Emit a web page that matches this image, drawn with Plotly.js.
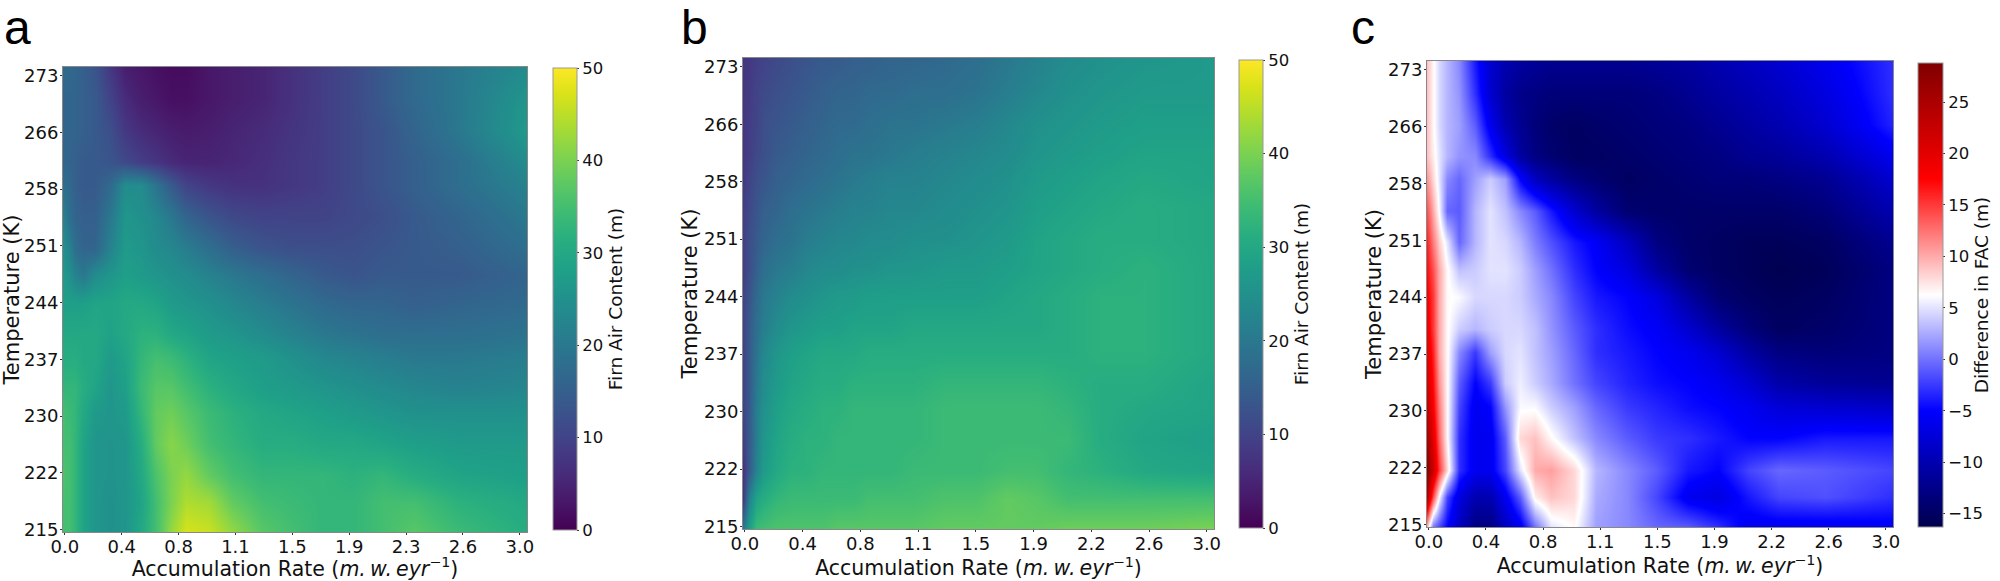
<!DOCTYPE html>
<html>
<head>
<meta charset="utf-8">
<script src="https://cdn.plot.ly/plotly-3.0.1.min.js"></script>
<style>html,body{margin:0;padding:0;background:#fff}</style>
</head>
<body>
<div id="fig" style="width:2000px;height:581px"></div>
<script>
// grid the values were read on, rows run top of picture to bottom
var accum = [-0.015, .03, .07, .12, .2, .3, .4, .5, .6, .7, .8, .95, 1.1, 1.3, 1.5, 1.7, 1.9, 2.1, 2.3, 2.6, 3.05];
var temps = [274.1, 270, 266, 262, 259, 255, 251, 247.5, 244, 240, 237, 233, 230, 226, 222, 218.5, 214.7];

var xTickVals = [0, .375, .75, 1.125, 1.5, 1.875, 2.25, 2.625, 3];
var xLabelsA = ['0.0', '0.4', '0.8', '1.1', '1.5', '1.9', '2.3', '2.6', '3.0'];
var xLabelsB = ['0.0', '0.4', '0.8', '1.1', '1.5', '1.9', '2.2', '2.6', '3.0'];
var yTickVals = [215, 222.25, 229.5, 236.75, 244, 251.25, 258.5, 265.75, 273];
var yLabels = ['215', '222', '230', '237', '244', '251', '258', '266', '273'];

var facA = [
  [17,17,16,15,13,8,4,3,2,1.5,1.5,3,4,5,7,9,11,14,17,20,24],
  [16,16,16,15,14,10,6,4,3,2,2,3,4,5,7,9,11,14,17,20,26],
  [16,16,16,15,14,12,8,6,5,4,3.5,4,5,6,7.5,9,11,13,16,20,27],
  [16,16,15,14,14,13,11,9,7.5,6,5,5,5.5,6.5,8,9,11,13,15,18,24],
  [18,17,15,14,14,17,24,24,19,14,10,8,7,7,8,9,11,13,15,18,22],
  [22,18,16,15,15,20,26,25,23,20,16,13,11,10,10,10,11,12,14,16,20],
  [25,22,18,16,16,22,27,26,24,23,21,18,15,13,12,12,12,13,14,15,18],
  [27,25,22,20,24,26,28,27,26,25,24,22,20,18,16,14,13,14,14,14,16],
  [28,28,28,28,29,29,30,30,29,27,26,25,23,21,19,17,16,16,15,16,17],
  [30,30,30,30,30,28.5,30,32,32,30,29,27,26,24,22,20,19,18,18,18,19],
  [31,31,31,30,30,27,29,33,35,34,32,29,28,27,25,23,22,21,20,20,21],
  [33,33,33,31,29,26,28,34,37,37,35,32,30,28,27,26,25,24,23,22,23],
  [35,34,33,30,27,26,27,33,38,39,37,34,32,30,29,28,27,26,25,25,25],
  [35,35,33,29,26,25.5,26,31,38,41,39,35,33,31,31,30,30,29,28,27,27],
  [36,35,33,29,26,25.5,26,30,36,40,42,38,35,33,33,33,32,33,31,29,28],
  [35,35,33,29,26,25,26,29,35,40,44,43,38,35,34,33,33,35,35,32,30],
  [35,35,33,29,26,25,26,30,35,42,47,46,42,37,35,33,33,35,37,34,31]
];

var facB = [
  [8,8,9,10,11,12,13,14,14,15,15,16,16,17,18,20,22,24,25,26,27],
  [8,8.5,10,11,12,13,14,15,16,16,17,17,18,18,19,21,23,25,26,27,27],
  [8,9,10,12,13,14,15,16,17,17,18,19,19,20,21,23,25,26,27,28,28],
  [8,9,11,12,14,15,16,17,18,19,19,20,21,22,23,24,26,27,28,29,29],
  [8,10,12,13,15,16,17,18,19,20,21,22,22,23,24,25,27,28,29,30,29],
  [9,11,13,15,16,18,19,20,21,22,22,23,23,24,25,26,28,29,30,31,30],
  [9,12,14,16,18,19,21,22,23,23,24,24,25,25,26,27,29,30,31,31,30],
  [9,12,15,18,20,21,23,24,24,25,25,26,26,27,27,28,29,30,31,32,30],
  [10,13,17,20,22,24,25,26,27,27,28,28,28,28,28,29,30,31,32,32,30],
  [10,14,18,21,24,26,27,28,28,29,29,29,30,30,30,30,30,31,32,32,30],
  [10,14,19,23,26,28,29,30,30,30,31,31,31,31,31,31,31,31,32,32,30],
  [10,14,20,24,27,29,30,31,31,32,32,32,32,33,33,33,33,32,31,31,29],
  [10,14,21,25,28,30,31,32,32,33,33,33,33,34,34,34,34,33,31,30,29],
  [9,14,21,26,29,31,32,32,33,33,33,33,33,34,34,34,34,34,31,29,28],
  [7,14,22,27,30,32,32,33,33,33,33,33,34,34,34,35,35,33,32,30,29],
  [8,22,29,31,33,34,34,34,34,34,35,35,35,36,36,38,37,35,35,35,35],
  [20,28,34,35,36,36,36,36,37,37,37,37,37,38,38,38,38,39,39,39,40]
];

var facDiff = [
  [9,6.5,4.5,3,1,-4,-8,-10,-11,-11.5,-12,-12,-12,-12,-11.5,-11,-10,-9,-8,-6,-3],
  [9,6.5,4.5,3,1.5,-3,-8,-11,-12.5,-13,-13.5,-13.5,-13.5,-13.5,-13,-12,-11,-10,-9,-7,-3],
  [9,6.5,4.5,3,2,-1,-6,-10,-12,-13.5,-14.5,-15,-14.5,-14,-13.5,-13,-12,-11,-10,-8,-3.5],
  [9,7,5,3,1.5,1,-3,-7,-11,-13,-14,-15,-15,-14.5,-14,-13.5,-13,-12,-11.5,-10,-6],
  [11,8,5,1,-0.5,2,4,2,-5,-9,-11,-13,-14,-15,-14.5,-14,-13.5,-13.5,-13,-12,-8],
  [14,10,6,-0.5,-1,3,5,3.5,1,-1,-4,-8,-11,-14,-14.5,-14.5,-14.5,-14.5,-14.5,-13.5,-10],
  [16,12,8.5,5,-0.5,3,5,4.5,3,0.5,-1.5,-4,-5.5,-9,-13,-14.5,-15,-15.5,-15.5,-15,-12],
  [17,14,10,6.5,3.5,4,5,5,4,2,0,-3,-5,-7,-11,-14,-15,-15.5,-16,-15.5,-13],
  [18,15,10,6.5,6,4.5,4.5,4.5,4,2.5,1,-2,-4,-5,-7,-11,-14,-15,-15.5,-15,-13],
  [19,15,10,6.5,4,3,4,4.5,4.5,3.5,1.5,-1,-3,-4.5,-5.5,-8,-11,-13.5,-15,-14.5,-13],
  [20,16,10,6.5,1,-2.5,2,4.5,5,3.5,2,-0.5,-3,-4,-5,-6,-8,-11,-13,-13.5,-13],
  [21,17,11,6.5,-1,-5,-2.5,4,5.5,4,2.5,0,-2,-3.5,-4.5,-5,-6,-8,-10.5,-11.5,-12],
  [23,18,12,6.5,-2,-6,-5,1.5,6,6,4,2,-0.5,-2.5,-3.5,-4.5,-5,-6,-7.5,-8,-8.5],
  [25,20,13,6.5,-3,-6,-6,-1,8,9,6.5,3.5,1,-1,-2.5,-3,-4,-5,-5,-4,-4],
  [28,22,15,8,-3,-6,-6,-2,5,10,10.5,8,3,1,-1,-4,-5,-2,-0.5,-1,-2],
  [24,14,6,-2,-7,-10,-10,-6,-1,7,9,8,2.5,1,-2,-6,-7,-4,-2,-1.5,-3],
  [9,0,-2,-5,-9,-13,-13,-9,-6,0,5,6.5,2,1,-0.5,-1,-3,-6,-6,-6,-5.5]
];

var W = 2000, H = 581;
var seismic = [[0, 'rgb(0,0,77)'], [.25, 'rgb(0,0,255)'], [.5, 'rgb(255,255,255)'], [.75, 'rgb(255,0,0)'], [1, 'rgb(128,0,0)']];
var font = 'DejaVu Sans, sans-serif';

// pixel boxes of the three panels and their colourbars
var boxes = [
  {l: 63, r: 527, t: 67, b: 532, cx: 553, cw: 24, ct: 68, cb: 530},
  {l: 743, r: 1214, t: 58, b: 529, cx: 1239, cw: 24, ct: 60, cb: 528},
  {l: 1427, r: 1893, t: 61, b: 527, cx: 1918, cw: 25, ct: 63, cb: 527}
];

function cbar(box, title, vals) {
  return {
    x: box.cx / W, xanchor: 'left', xpad: 0, ypad: 0,
    y: 1 - box.ct / H, yanchor: 'top',
    lenmode: 'pixels', len: box.cb - box.ct,
    thicknessmode: 'pixels', thickness: box.cw,
    outlinecolor: '#999', outlinewidth: 1,
    ticks: 'outside', ticklen: 2, tickcolor: '#333',
    tickvals: vals,
    tickfont: {family: font, size: 16.5, color: '#111'},
    title: {text: title, side: 'right', font: {family: font, size: 18.5, color: '#111'}}
  };
}

var tens = [0, 10, 20, 30, 40, 50];
var fives = [-15, -10, -5, 0, 5, 10, 15, 20, 25];

var data = [
  {type: 'heatmap', x: accum, y: temps, z: facA, xaxis: 'x', yaxis: 'y', zsmooth: 'best',
   colorscale: 'Viridis', zmin: 0, zmax: 50, colorbar: cbar(boxes[0], 'Firn Air Content (m)', tens)},
  {type: 'heatmap', x: accum, y: temps, z: facB, xaxis: 'x2', yaxis: 'y2', zsmooth: 'best',
   colorscale: 'Viridis', zmin: 0, zmax: 50, colorbar: cbar(boxes[1], 'Firn Air Content (m)', tens)},
  {type: 'heatmap', x: accum, y: temps, z: facDiff, xaxis: 'x3', yaxis: 'y3', zsmooth: 'best',
   colorscale: seismic, zmin: -16.3, zmax: 28.8, colorbar: cbar(boxes[2], 'Difference in FAC (m)', fives)}
];

function xAxis(box, labels, anchor) {
  return {
    domain: [box.l / W, box.r / W], anchor: anchor, range: [-0.012, 3.047],
    tickmode: 'array', tickvals: xTickVals, ticktext: labels, ticks: 'outside', ticklen: 2, tickcolor: '#333',
    ticklabelstandoff: -4,
    tickfont: {family: font, size: 18, color: '#111'}, showgrid: false, zeroline: false,
    showline: true, mirror: true, linecolor: '#888', linewidth: 1,
    title: {text: 'Accumulation Rate (<i>m.\u2009w.\u2009eyr</i><sup>\u22121</sup>)', standoff: 0, font: {family: font, size: 20.5, color: '#111'}}
  };
}

function yAxis(box, anchor) {
  return {
    domain: [1 - box.b / H, 1 - box.t / H], anchor: anchor, range: [214.7, 274.1],
    tickmode: 'array', tickvals: yTickVals, ticktext: yLabels, ticks: 'outside', ticklen: 2, tickcolor: '#333',
    ticklabelstandoff: -2,
    tickfont: {family: font, size: 18, color: '#111'}, showgrid: false, zeroline: false,
    showline: true, mirror: true, linecolor: '#888', linewidth: 1,
    title: {text: 'Temperature (K)', standoff: 0, font: {family: font, size: 21, color: '#111'}}
  };
}

function letter(text, px) {
  return {text: text, xref: 'paper', yref: 'paper', x: px / W, y: 1, xanchor: 'left', yanchor: 'top',
    showarrow: false, borderpad: 0, font: {family: 'Liberation Sans, sans-serif', size: 48, color: '#000'}};
}

var layout = {
  width: W, height: H, autosize: false, showlegend: false,
  paper_bgcolor: '#fff', plot_bgcolor: '#fff',
  margin: {l: 0, r: 0, t: 0, b: 0},
  xaxis: xAxis(boxes[0], xLabelsA, 'y'), yaxis: yAxis(boxes[0], 'x'),
  xaxis2: xAxis(boxes[1], xLabelsB, 'y2'), yaxis2: yAxis(boxes[1], 'x2'),
  xaxis3: xAxis(boxes[2], xLabelsB, 'y3'), yaxis3: yAxis(boxes[2], 'x3'),
  annotations: [letter('a', 3), letter('b', 680), letter('c', 1350)]
};

Plotly.newPlot('fig', data, layout, {displayModeBar: false, staticPlot: true});
</script>
</body>
</html>
